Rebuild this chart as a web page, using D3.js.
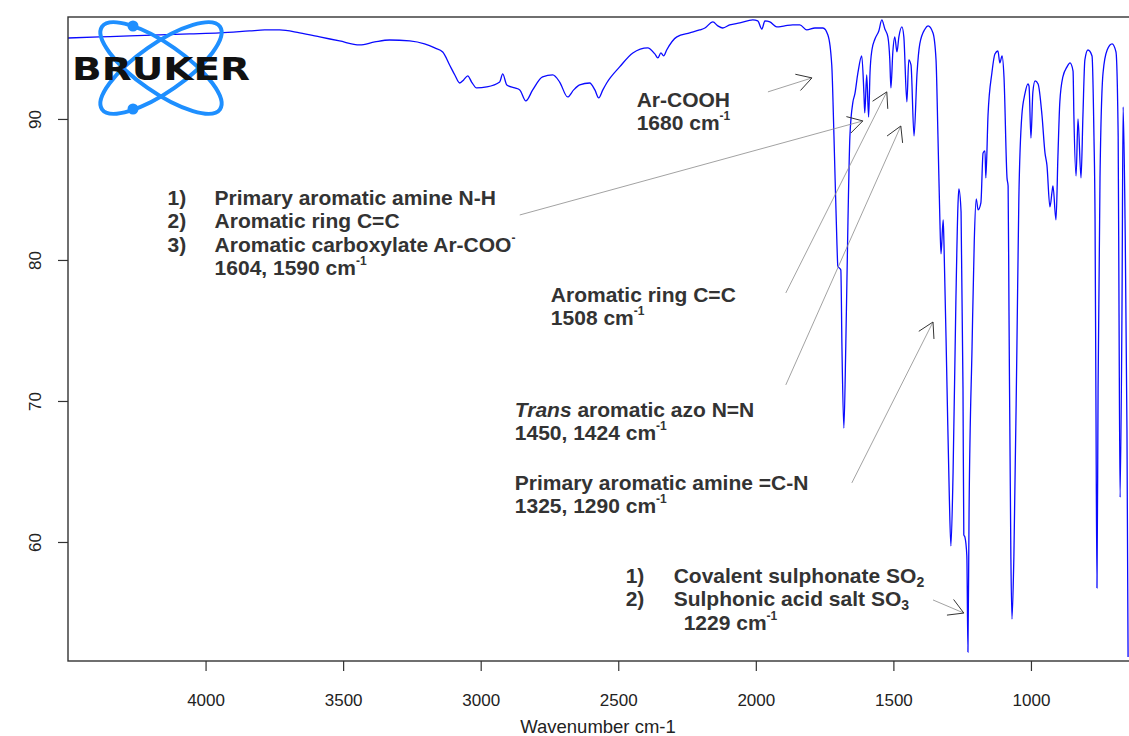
<!DOCTYPE html>
<meta charset='utf-8'>
<style>
body { margin: 0; background: #fff; }
svg text { font-family: 'Liberation Sans', Arial, sans-serif; }
.spectrum { fill: none; stroke: #0a0aff; stroke-width: 1.3px; }
.note { font-weight: bold; font-size: 21px; fill: #333; }
.shaft { stroke: #8a8a8a; stroke-width: 0.8px; }
.head { stroke: #333; stroke-width: 1px; fill: none; }
.axis line { stroke: #333; stroke-width: 1.2px; }
.axis text { font-size: 17px; fill: #222; }
.frame { fill: none; stroke: #333; stroke-width: 1.4px; }
</style>
<title>IR spectrum</title>
<body>
<script src='https://d3js.org/d3.v7.min.js'></script>
<script>
// spectrum: wavenumber (cm-1) and transmittance (%)
var wavenumber = [4502, 4385, 4276, 4167, 4058, 3949, 3840, 3785, 3731, 3658,
  3585, 3513, 3440, 3385, 3331, 3258, 3204, 3167, 3138, 3113,
  3094, 3076, 3062, 3047, 3033, 3015, 2978, 2931, 2920, 2905,
  2876, 2858, 2836, 2811, 2775, 2738, 2713, 2684, 2662, 2640,
  2604, 2585, 2571, 2556, 2542, 2495, 2447, 2393, 2367, 2356,
  2345, 2335, 2324, 2287, 2240, 2204, 2185, 2156, 2138, 2120,
  2095, 2058, 2011, 1993, 1978, 1967, 1949, 1924, 1895, 1866,
  1840, 1815, 1785, 1756, 1738,
  1724, 1716, 1705, 1702, 1691, 1687, 1680, 1673, 1665, 1658,
  1647, 1640, 1629, 1615, 1607, 1604, 1597, 1590, 1585, 1578,
  1567, 1553, 1542, 1531, 1520, 1513, 1509, 1502, 1495, 1487,
  1480, 1469, 1462, 1451, 1444, 1436, 1425, 1414, 1404, 1385,
  1374, 1356, 1345, 1338, 1331, 1327, 1319, 1316, 1305, 1297,
  1291, 1283, 1273, 1265, 1262, 1254, 1247, 1244, 1240, 1233,
  1229, 1225, 1214, 1206, 1199, 1192, 1182, 1174, 1167, 1164,
  1156, 1142, 1131, 1120, 1113, 1105, 1098, 1087, 1083, 1080,
  1073, 1069, 1062, 1051, 1044, 1033, 1022, 1011, 1007, 1000,
  993, 985, 974, 960, 949, 942, 931, 923, 920, 909,
  902, 895, 884, 869, 858, 847, 844, 836, 829, 818,
  811, 804, 793, 778, 771, 767, 764, 760, 756, 749,
  738, 723, 705, 691, 683, 680, 676, 669, 665, 658,
  651, 647];

var transmittance = [95.74, 95.82, 95.89, 95.96, 96.03, 96.10, 96.24, 96.31, 96.31, 96.10,
  95.82, 95.53, 95.25, 95.46, 95.60, 95.53, 95.32, 95.04, 94.75, 93.83,
  93.12, 92.55, 92.77, 93.05, 92.62, 92.20, 92.27, 92.62, 93.19, 92.41,
  92.20, 92.06, 91.28, 92.06, 92.98, 93.12, 92.62, 91.56, 92.06, 92.41,
  92.55, 92.06, 91.49, 92.06, 92.55, 93.69, 94.68, 95.04, 94.61, 94.33,
  94.68, 94.47, 94.89, 95.82, 96.10, 96.31, 96.45, 96.88, 96.60, 96.45,
  96.67, 96.81, 97.02, 96.95, 96.38, 96.95, 96.88, 96.53, 96.60, 96.67,
  96.67, 96.31, 96.45, 96.45, 95.96,
  93.83, 88.79, 81.06, 79.57, 79.29, 73.90, 68.08, 73.90, 82.84, 88.79,
  91.21, 91.77, 93.26, 94.47, 91.77, 90.43, 93.12, 90.14, 93.26, 94.89,
  95.67, 96.24, 97.02, 96.38, 95.82, 94.19, 92.20, 94.75, 95.82, 94.75,
  95.82, 96.53, 95.82, 91.21, 94.19, 93.83, 88.79, 93.26, 95.32, 96.38,
  96.60, 96.10, 94.19, 88.79, 82.84, 80.43, 82.84, 81.06, 70.92, 63.48,
  59.72, 64.97, 76.88, 84.04, 85.04, 83.40, 70.92, 60.50, 60.35, 59.01,
  52.20, 61.99, 73.90, 81.35, 84.33, 83.55, 84.04, 87.59, 87.73, 85.82,
  90.28, 93.26, 94.61, 94.82, 93.97, 94.47, 92.98, 85.82, 85.25, 76.88,
  59.01, 54.54, 59.01, 73.90, 84.33, 90.28, 91.77, 92.48, 92.34, 88.65,
  91.91, 92.70, 92.48, 90.28, 87.59, 86.74, 83.76, 84.89, 85.25, 82.84,
  87.31, 91.21, 92.98, 93.69, 93.97, 93.40, 90.28, 85.96, 90.00, 85.82,
  90.28, 94.19, 94.89, 94.47, 88.79, 82.84, 70.92, 56.74, 70.92, 85.82,
  93.26, 94.89, 95.32, 94.75, 88.79, 76.88, 63.17, 76.88, 90.85, 82.84,
  67.94, 51.84];

var xTicks = [4000, 3500, 3000, 2500, 2000, 1500, 1000];
var yTicks = [60, 70, 80, 90];

// annotation arrows, in data units (wavenumber, transmittance)
var arrowFrom = [[1956, 91.92], [2858, 83.19], [1891, 77.66], [1891, 71.14], [1651, 64.19], [1356, 55.89]];
var arrowTo   = [[1796, 92.91], [1611, 89.86], [1524, 91.92], [1473, 89.50], [1356, 75.60], [1244, 54.96]];

// annotation blocks: anchor (wavenumber, transmittance of first baseline) and rows
var notes = [
  { w: 2433, t: 90.85, rows: [
    { s: [['Ar-COOH']] },
    { s: [['1680 cm'], ['-1', 'sup']] } ] },
  { w: 4138, t: 83.90, rows: [
    { n: '1)', ind: 47, s: [['Primary aromatic amine N-H']] },
    { n: '2)', ind: 47, s: [['Aromatic ring C=C']] },
    { n: '3)', ind: 47, s: [['Aromatic carboxylate Ar-COO'], ['-', 'sup']] },
    { ind: 47, s: [['1604, 1590 cm'], ['-1', 'sup']] } ] },
  { w: 2745, t: 77.02, rows: [
    { s: [['Aromatic ring C=C']] },
    { s: [['1508 cm'], ['-1', 'sup']] } ] },
  { w: 2876, t: 68.87, rows: [
    { s: [['Trans', 'it'], [' aromatic azo N=N']] },
    { s: [['1450, 1424 cm'], ['-1', 'sup']] } ] },
  { w: 2876, t: 63.69, rows: [
    { s: [['Primary aromatic amine =C-N']] },
    { s: [['1325, 1290 cm'], ['-1', 'sup']] } ] },
  { w: 2473, t: 57.09, rows: [
    { n: '1)', ind: 48, s: [['Covalent sulphonate SO'], ['2', 'sub']] },
    { n: '2)', ind: 48, s: [['Sulphonic acid salt SO'], ['3', 'sub']] },
    { ind: 58, s: [['1229 cm'], ['-1', 'sup']] } ] }
];

var width = 1129, height = 736;
var plotL = 68, plotT = 17, plotB = 661, plotR = 1141;

var svg = d3.select('body').append('svg')
  .attr('width', width).attr('height', height);
svg.append('rect').attr('width', width).attr('height', height).attr('fill', '#fff');

var x = d3.scaleLinear().domain([4500, 600]).range([plotL, plotR]);
var y = d3.scaleLinear().domain([51.56, 97.23]).range([plotB, plotT]);

svg.append('clipPath').attr('id', 'clip')
  .append('rect').attr('x', plotL).attr('y', plotT)
  .attr('width', plotR - plotL).attr('height', plotB - plotT);

var data = wavenumber.map(function(w, i) { return { w: w, t: transmittance[i] }; });

var line = d3.line()
  .x(function(d) { return x(d.w); })
  .y(function(d) { return y(d.t); })
  .curve(d3.curveMonotoneX);

svg.append('path')
  .datum(data)
  .attr('class', 'spectrum')
  .attr('clip-path', 'url(#clip)')
  .attr('d', line);

// x axis
var gx = svg.append('g').attr('class', 'axis')
  .attr('transform', 'translate(0,' + plotB + ')')
  .call(d3.axisBottom(x).tickValues(xTicks).tickSize(10).tickPadding(23).tickFormat(d3.format('d')));
gx.select('.domain').remove();

// y axis, labels turned upright like the reference
var gy = svg.append('g').attr('class', 'axis')
  .attr('transform', 'translate(' + plotL + ',0)')
  .call(d3.axisLeft(y).tickValues(yTicks).tickSize(10));
gy.select('.domain').remove();
gy.selectAll('text')
  .attr('x', 0).attr('y', 0).attr('dy', null)
  .attr('transform', 'translate(-27,0) rotate(-90)')
  .attr('text-anchor', 'middle');

svg.append('rect').attr('class', 'frame')
  .attr('x', plotL).attr('y', plotT)
  .attr('width', plotR - plotL).attr('height', plotB - plotT);

svg.append('text')
  .attr('x', 598).attr('y', 733)
  .attr('text-anchor', 'middle')
  .style('font-size', '18.5px').style('fill', '#222')
  .text('Wavenumber cm-1');

// arrows
var head = 17, ang = Math.PI / 6;
arrowFrom.forEach(function(f, i) {
  var x1 = x(f[0]), y1 = y(f[1]), x2 = x(arrowTo[i][0]), y2 = y(arrowTo[i][1]);
  svg.append('line').attr('class', 'shaft')
    .attr('x1', x1).attr('y1', y1).attr('x2', x2).attr('y2', y2);
  var a = Math.atan2(y1 - y2, x1 - x2);
  svg.append('path').attr('class', 'head')
    .attr('d', 'M' + (x2 + head * Math.cos(a + ang)) + ',' + (y2 + head * Math.sin(a + ang)) +
      'L' + x2 + ',' + y2 +
      'L' + (x2 + head * Math.cos(a - ang)) + ',' + (y2 + head * Math.sin(a - ang)));
});

// annotation text
var lineGap = 23.4;
notes.forEach(function(note) {
  var x0 = x(note.w);
  note.rows.forEach(function(row, i) {
    var yy = y(note.t) + i * lineGap;
    if (row.n) {
      svg.append('text').attr('class', 'note').attr('x', x0).attr('y', yy).text(row.n);
    }
    var t = svg.append('text').attr('class', 'note')
      .attr('x', x0 + (row.ind || 0)).attr('y', yy);
    row.s.forEach(function(seg) {
      var ts = t.append('tspan').text(seg[0]);
      if (seg[1] === 'sup') ts.attr('font-size', 12).attr('dy', -10);
      if (seg[1] === 'sub') ts.attr('font-size', 14).attr('dy', 4);
      if (seg[1] === 'it') ts.attr('font-style', 'italic');
    });
  });
});

// Bruker logo
var logo = svg.append('g').attr('transform', 'translate(161,68)');
[35, -35].forEach(function(r) {
  logo.append('ellipse').attr('rx', 72).attr('ry', 24)
    .attr('transform', 'rotate(' + r + ')')
    .attr('fill', 'none').attr('stroke', '#1e8fff').attr('stroke-width', 4);
});
logo.append('circle').attr('cx', -28).attr('cy', -42).attr('r', 5.5).attr('fill', '#1e8fff');
logo.append('circle').attr('cx', -28).attr('cy', 41).attr('r', 5.5).attr('fill', '#1e8fff');
logo.append('text')
  .attr('x', -89).attr('y', 12)
  .attr('textLength', 178).attr('lengthAdjust', 'spacingAndGlyphs')
  .style('font-family', "'DejaVu Sans', sans-serif")
  .style('font-weight', 'bold').style('font-size', '32px').style('fill', '#111')
  .text('BRUKER');
</script>
</body>
